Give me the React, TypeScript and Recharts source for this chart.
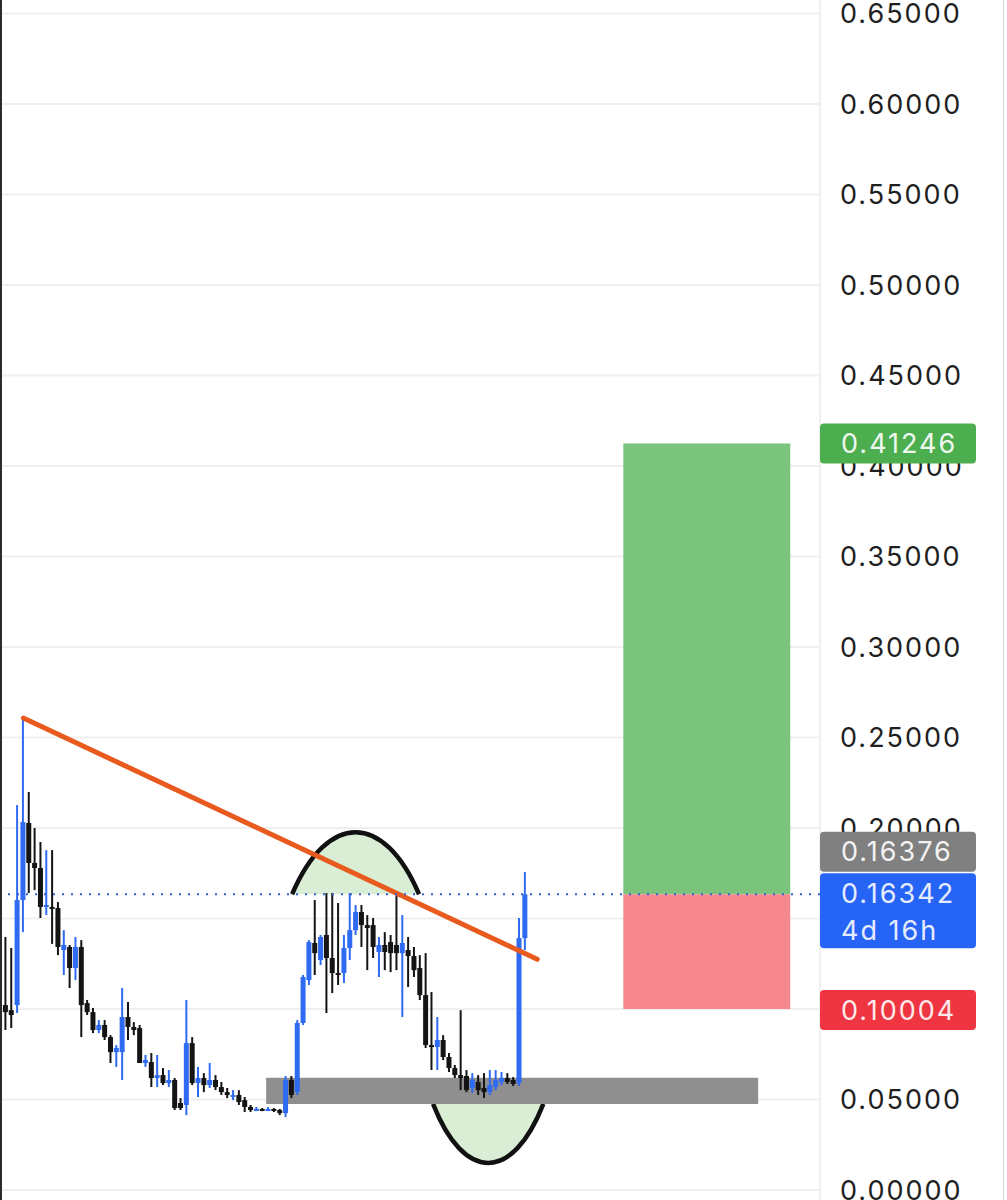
import React from 'react'
import {
  ComposedChart,
  Bar,
  XAxis,
  YAxis,
  CartesianGrid,
  ReferenceLine,
  ReferenceArea,
} from 'recharts'

// candle values, oldest first (one per bar on the chart)
const opens = [
  0.0867, 0.1022, 0.0994, 0.1022, 0.1602, 0.2028, 0.1807, 0.1779, 0.1564, 0.1564,
  0.1558, 0.1326, 0.1343, 0.1227, 0.1343, 0.1033, 0.0983, 0.0884, 0.0912, 0.0845,
  0.0762, 0.0762, 0.0956, 0.0901, 0.0895, 0.0702, 0.0707, 0.0619, 0.0635, 0.0591,
  0.0608, 0.0481, 0.0470, 0.0812, 0.0591, 0.0619, 0.0580, 0.0608, 0.0569, 0.0541,
  0.0514, 0.0525, 0.0497, 0.0459, 0.0442, 0.0448, 0.0442, 0.0448, 0.0442, 0.0425,
  0.0608, 0.0541, 0.0923, 0.1160, 0.1365, 0.1271, 0.1409, 0.1282, 0.1199, 0.1199,
  0.1337, 0.1436, 0.1536, 0.1464, 0.1464, 0.1315, 0.1354, 0.1370, 0.1354, 0.1309,
  0.1326, 0.1293, 0.1227, 0.1077, 0.0801, 0.0790, 0.0829, 0.0735, 0.0674, 0.0635,
  0.0630, 0.0564, 0.0597, 0.0564, 0.0541, 0.0569, 0.0597, 0.0619, 0.0608, 0.0591,
  0.1392,
]
const closes = [
  0.1006, 0.0983, 0.0967, 0.1602, 0.2033, 0.1807, 0.1779, 0.1564, 0.1575, 0.1558,
  0.1343, 0.1354, 0.1227, 0.1343, 0.1022, 0.0983, 0.0884, 0.0912, 0.0845, 0.0762,
  0.0785, 0.0956, 0.0901, 0.0884, 0.0702, 0.0718, 0.0619, 0.0635, 0.0591, 0.0608,
  0.0453, 0.0453, 0.0812, 0.0591, 0.0619, 0.0580, 0.0608, 0.0569, 0.0541, 0.0525,
  0.0525, 0.0486, 0.0459, 0.0442, 0.0448, 0.0442, 0.0448, 0.0442, 0.0425, 0.0608,
  0.0525, 0.0923, 0.1177, 0.1370, 0.1309, 0.1398, 0.1282, 0.1199, 0.1188, 0.1337,
  0.1436, 0.1536, 0.1464, 0.1448, 0.1343, 0.1354, 0.1315, 0.1309, 0.1309, 0.1365,
  0.1293, 0.1215, 0.1077, 0.0801, 0.0790, 0.0829, 0.0735, 0.0674, 0.0635, 0.0619,
  0.0552, 0.0608, 0.0552, 0.0541, 0.0580, 0.0608, 0.0619, 0.0597, 0.0586, 0.1392,
  0.1634,
]
const highs = [
  0.1022, 0.1398, 0.1337, 0.2127, 0.2608, 0.2199, 0.2000, 0.1923, 0.1878, 0.1878,
  0.1591, 0.1436, 0.1354, 0.1398, 0.1381, 0.1050, 0.1006, 0.0939, 0.0939, 0.0856,
  0.0801, 0.1116, 0.1039, 0.0928, 0.0912, 0.0746, 0.0757, 0.0746, 0.0674, 0.0663,
  0.0619, 0.0508, 0.1050, 0.0845, 0.0680, 0.0646, 0.0702, 0.0635, 0.0597, 0.0564,
  0.0552, 0.0552, 0.0514, 0.0470, 0.0459, 0.0453, 0.0459, 0.0453, 0.0448, 0.0630,
  0.0630, 0.0939, 0.1188, 0.1381, 0.1602, 0.1409, 0.1641, 0.1641, 0.1586, 0.1409,
  0.1641, 0.1575, 0.1575, 0.1519, 0.1503, 0.1398, 0.1425, 0.1409, 0.1641, 0.1519,
  0.1398, 0.1343, 0.1298, 0.1309, 0.1094, 0.0956, 0.0856, 0.0757, 0.0691, 0.0994,
  0.0663, 0.0646, 0.0635, 0.0646, 0.0663, 0.0663, 0.0652, 0.0646, 0.0624, 0.1503,
  0.1757,
]
const lows = [
  0.0851, 0.0884, 0.0895, 0.0978, 0.1425, 0.1641, 0.1657, 0.1503, 0.1519, 0.1360,
  0.1298, 0.1188, 0.1116, 0.1160, 0.0845, 0.0967, 0.0867, 0.0867, 0.0829, 0.0702,
  0.0680, 0.0608, 0.0829, 0.0856, 0.0702, 0.0680, 0.0569, 0.0569, 0.0580, 0.0569,
  0.0442, 0.0442, 0.0414, 0.0580, 0.0514, 0.0541, 0.0564, 0.0552, 0.0525, 0.0508,
  0.0497, 0.0470, 0.0431, 0.0431, 0.0436, 0.0436, 0.0436, 0.0431, 0.0414, 0.0403,
  0.0508, 0.0525, 0.0912, 0.1133, 0.1188, 0.1243, 0.0978, 0.1088, 0.1133, 0.1144,
  0.1271, 0.1409, 0.1343, 0.1215, 0.1282, 0.1177, 0.1215, 0.1204, 0.1215, 0.0956,
  0.1122, 0.1177, 0.1050, 0.0785, 0.0663, 0.0663, 0.0718, 0.0652, 0.0619, 0.0552,
  0.0541, 0.0536, 0.0525, 0.0508, 0.0525, 0.0552, 0.0580, 0.0586, 0.0575, 0.0575,
  0.1326,
]

const priceTicks = [0, 0.05, 0.1, 0.15, 0.2, 0.25, 0.3, 0.35, 0.4, 0.45, 0.5, 0.55, 0.6, 0.65]
const timeGrid = [18, 44.2, 70.4, 96.6, 122.8]

const targetPrice = 0.41246
const entryPrice = 0.16342
const prevPrice = 0.16376
const stopPrice = 0.10004
const countdown = '4d 16h'
// price tags on the scale, drawn after the plain labels so they cover them
const tagPrices = [targetPrice, prevPrice, entryPrice, stopPrice]

// drawings on the chart, in bar index / price units
const trendFrom = { x: 4, y: 0.2608 }
const trendTo = { x: 92.05, y: 0.1275 }
const supportZone = { x1: 45.6, x2: 129.9, y1: 0.0476, y2: 0.062 }
const topArc = { x1: 50.05, x2: 71.8, y1: entryPrice, y2: 0.1978 }
const bottomArc = { x1: 74.2, x2: 93.1, y1: 0.0149, y2: 0.0476 }
const positionX = { x1: 106.8, x2: 135.4 }

const candles = opens.map((open, i) => ({
  idx: i,
  open,
  close: closes[i],
  high: highs[i],
  low: lows[i],
}))

const BLUE = '#2f6bf2'
const BLACK = '#141414'
const FONT = 'Inter, "Noto Sans", sans-serif'

const Candle = (props: any) => {
  const { x, y, width, height, payload } = props
  if (payload == null || x == null || y == null) return null
  const top = Math.min(y, y + height)
  const bottom = Math.max(y, y + height)
  const span = payload.high - payload.low || 1
  const toPx = (v: number) => top + ((payload.high - v) / span) * (bottom - top)
  const color = payload.close >= payload.open ? BLUE : BLACK
  const cx = x + width / 2
  const bodyTop = toPx(Math.max(payload.open, payload.close))
  const bodyBottom = toPx(Math.min(payload.open, payload.close))
  return (
    <g>
      <line x1={cx} x2={cx} y1={top} y2={bottom} stroke={color} strokeWidth={2} />
      <rect x={x} y={bodyTop} width={width} height={Math.max(bodyBottom - bodyTop, 2)} fill={color} />
    </g>
  )
}

// hump drawn above the base of the area
const Arch = (props: any) => {
  const { x, y, width, height } = props
  const base = y + height
  const c = base - height * 1.33
  const curve = `M${x},${base} C${x + width * 0.28},${c} ${x + width * 0.72},${c} ${x + width},${base}`
  return (
    <g>
      <path d={curve + ' Z'} fill="#d9eed5" stroke="none" />
      <path d={curve} fill="none" stroke="#111" strokeWidth={4.5} />
    </g>
  )
}

// bowl hanging under the top of the area
const Bowl = (props: any) => {
  const { x, y, width, height } = props
  const c = y + height * 1.33
  const curve = `M${x},${y} C${x + width * 0.28},${c} ${x + width * 0.72},${c} ${x + width},${y}`
  return (
    <g>
      <path d={curve + ' Z'} fill="#d9eed5" stroke="none" />
      <path d={curve} fill="none" stroke="#111" strokeWidth={4.5} />
    </g>
  )
}

const tagLook = (v: number) => {
  if (v === targetPrice) return { fill: '#4cae4f', color: '#eef8ee', top: -20, h: 40, lines: [v.toFixed(5)] }
  if (v === prevPrice) return { fill: '#808080', color: '#f2f2f2', top: -62, h: 40, lines: [v.toFixed(5)] }
  if (v === entryPrice) return { fill: '#2664f5', color: '#e6ecff', top: -21, h: 75, lines: [v.toFixed(5), countdown] }
  if (v === stopPrice) return { fill: '#f03542', color: '#fde9eb', top: -19, h: 40, lines: [v.toFixed(5)] }
  return null
}

const ScaleTick = (props: any) => {
  const { x, y, payload, index } = props
  const v = payload.value
  const tag = tagLook(v)
  const textProps = { fontSize: 27, fontFamily: FONT, letterSpacing: 2 }
  if (!tag) {
    return (
      <text x={x} y={y} dy="0.36em" fill="#1f1f1f" {...textProps}>
        {v.toFixed(5)}
      </text>
    )
  }
  const left = x - 20
  return (
    <g key={index}>
      <rect x={left} y={y + tag.top} width={156} height={tag.h} rx={4} fill={tag.fill} />
      {tag.lines.map((t: string, i: number) => (
        <text key={i} x={left + 21} y={y + tag.top + 20 + i * 37} dy="0.36em" fill={tag.color} {...textProps}>
          {t}
        </text>
      ))}
    </g>
  )
}

export default function App() {
  return (
    <div style={{ position: 'absolute', left: 0, top: 0, width: 1007, height: 1200, background: '#fff' }}>
      <ComposedChart width={1007} height={1200} data={candles} margin={{ top: 0, right: 0, bottom: 0, left: 0 }}>
        <CartesianGrid stroke="#efefef" strokeWidth={2} horizontalValues={priceTicks} />
        <XAxis
          dataKey="idx"
          type="number"
          domain={[0, 140.5]}
          allowDataOverflow
          ticks={timeGrid}
          height={0}
          tick={false}
          tickLine={false}
          axisLine={false}
        />
        <YAxis
          orientation="right"
          type="number"
          width={187}
          domain={[-0.0055, 0.6575]}
          allowDataOverflow
          ticks={[...priceTicks, ...tagPrices]}
          interval={0}
          axisLine={false}
          tickLine={false}
          tickMargin={14}
          tick={<ScaleTick />}
        />

        <ReferenceArea x1={topArc.x1} x2={topArc.x2} y1={topArc.y1} y2={topArc.y2} shape={<Arch />} />
        <ReferenceArea x1={bottomArc.x1} x2={bottomArc.x2} y1={bottomArc.y1} y2={bottomArc.y2} shape={<Bowl />} />
        <ReferenceArea
          x1={supportZone.x1}
          x2={supportZone.x2}
          y1={supportZone.y1}
          y2={supportZone.y2}
          fill="#8f8f8f"
          fillOpacity={1}
        />
        <ReferenceArea x1={positionX.x1} x2={positionX.x2} y1={entryPrice} y2={targetPrice} fill="#7ac47e" fillOpacity={1} />
        <ReferenceArea x1={positionX.x1} x2={positionX.x2} y1={stopPrice} y2={entryPrice} fill="#f6878f" fillOpacity={1} />

        <Bar dataKey={(d: any) => [d.low, d.high]} barSize={5} shape={<Candle />} isAnimationActive={false} />

        <ReferenceLine
          segment={[trendFrom, trendTo]}
          stroke="#e85a1e"
          strokeWidth={5}
          strokeLinecap="round"
        />
        <ReferenceLine y={entryPrice} stroke="#3a5fd0" strokeWidth={2} strokeDasharray="2 7" />
      </ComposedChart>
      <div style={{ position: 'absolute', left: 0, top: 0, width: 2, height: 1200, background: '#2b2b2b' }} />
      <div style={{ position: 'absolute', left: 1003, top: 0, width: 1, height: 1200, background: '#d6d6d6' }} />
    </div>
  )
}
